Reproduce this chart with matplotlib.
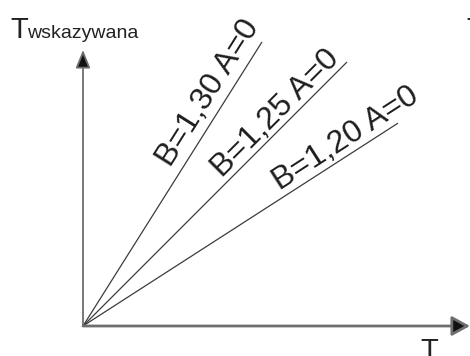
import numpy as np
import matplotlib
matplotlib.use("Agg")
import matplotlib.pyplot as plt

plt.rcParams['font.family'] = ['Liberation Sans', 'DejaVu Sans']

# ---- data (read from the schematic) ----
labels = ["B=1,30 A=0", "B=1,25 A=0", "B=1,20 A=0"]
slopes = [1.587, 1.0, 0.644]          # visual slope of each line
x_end = [179, 264, 315]               # horizontal extent of each line
y_label_main = "T"
y_label_sub = "wskazywana"
x_label = "T"

# ---- layout ----
label_start = [181, 203, 239]         # distance along each line where its label starts
perp_off = [10, 6, 7]                 # label offset above its line

fig = plt.figure(figsize=(4.70, 3.56), dpi=100)
ax = fig.add_axes([0, 0, 1, 1])
ax.set_xlim(-83, 387)
ax.set_ylim(-30, 326)
ax.axis('off')

axis_col = '#6e6e6e'
# axes with arrows
ax.annotate('', xy=(0, 276), xytext=(0, 0),
            arrowprops=dict(arrowstyle='-|>,head_length=11,head_width=4.5',
                            mutation_scale=1, color=axis_col, lw=1.3,
                            shrinkA=0, shrinkB=0, fc='#111111', ec=axis_col))
ax.annotate('', xy=(387, 0), xytext=(0, 0),
            arrowprops=dict(arrowstyle='-|>,head_length=11,head_width=6',
                            mutation_scale=1, color=axis_col, lw=2.0,
                            shrinkA=0, shrinkB=0, fc='#111111', ec=axis_col))

for lab, s, xe, d, po in zip(labels, slopes, x_end, label_start, perp_off):
    xs = np.array([0, xe])
    ax.plot(xs, s * xs, color='#3c3c3c', lw=0.9, solid_capstyle='butt')
    ang = np.arctan(s)
    px = d * np.cos(ang) - po * np.sin(ang)
    py = d * np.sin(ang) + po * np.cos(ang)
    ax.text(px, py, lab, rotation=np.degrees(ang), rotation_mode='anchor',
            ha='left', va='baseline', fontsize=23, color='#1e1e1e')

ax.text(-73, 288, y_label_main, fontsize=21, color='#222222', ha='left', va='baseline')
ax.text(-56, 288, y_label_sub, fontsize=14, color='#222222', ha='left', va='baseline')
ax.text(346, -11, x_label, fontsize=21, color='#222222', ha='center', va='top')
ax.text(383, 288, y_label_main, fontsize=21, color='#222222', ha='left', va='baseline')

fig.savefig('out.png', dpi=100)
